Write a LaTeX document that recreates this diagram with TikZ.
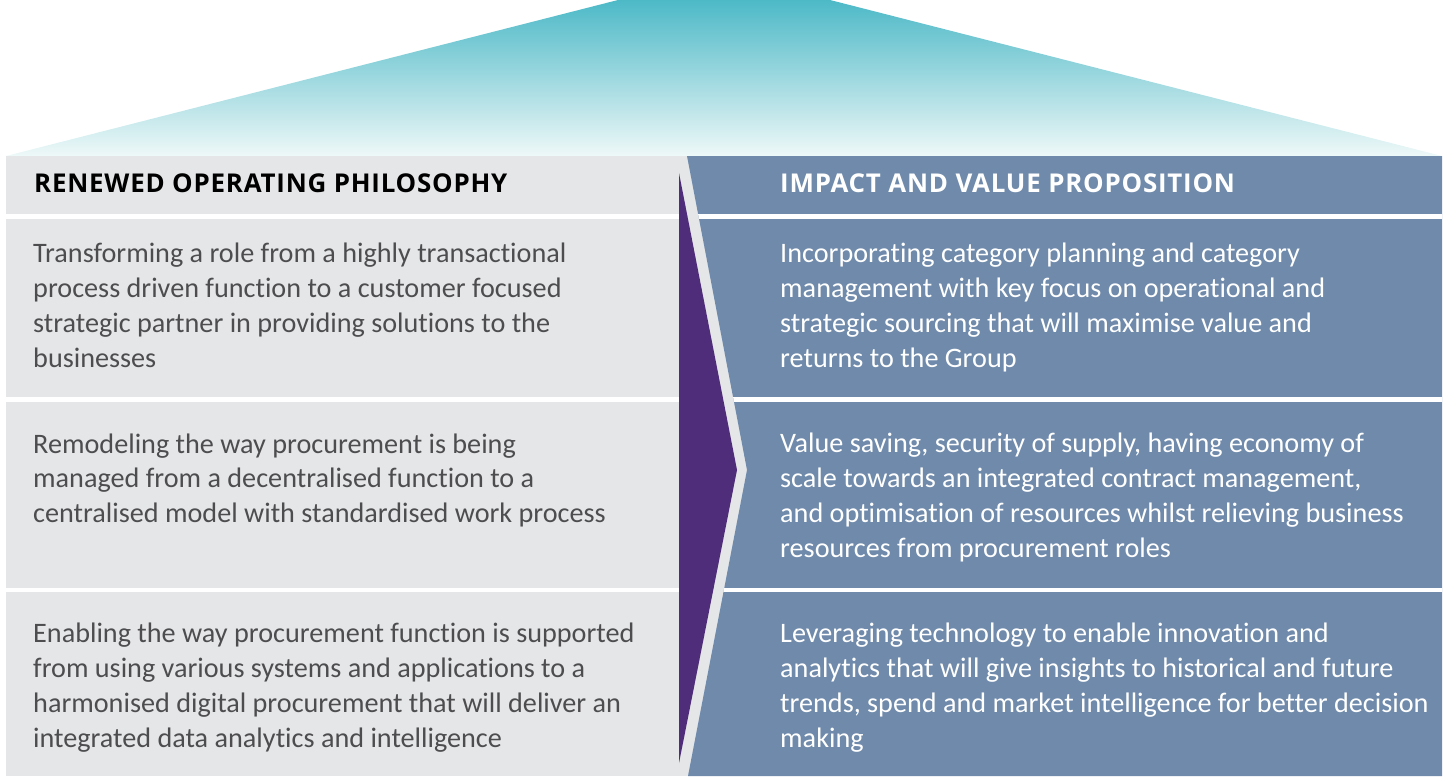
\documentclass[tikz,border=0pt]{standalone}
\usepackage{fontspec}
\setmainfont{Carlito}[Ligatures=NoCommon]
\newfontfamily\headfont[LetterSpace=3]{Open Sans}
\definecolor{panelgray}{HTML}{E5E6E8}
\definecolor{panelblue}{HTML}{6F8AAB}
\definecolor{arrowpurple}{HTML}{4F2D7A}
\definecolor{tealtop}{HTML}{4DB9C7}
\definecolor{tealbot}{HTML}{EEF8F8}
\definecolor{bodygray}{HTML}{4D4D4F}
\tikzset{
  bodytext/.style={anchor=base west, align=left, inner sep=0pt,
    font=\fontsize{28.2}{34.7}\selectfont},
  lefttext/.style={bodytext, text=bodygray},
  righttext/.style={bodytext, text=white},
  headtext/.style={anchor=base west, inner sep=0pt,
    font=\headfont\bfseries\fontsize{25.9}{30}\selectfont},
}
\begin{document}
\begin{tikzpicture}[x=1pt,y=-1pt]
\useasboundingbox (0,0) rectangle (1450,776);
% top roof
\shade[top color=tealtop, bottom color=tealbot] (6,156) -- (618,0) -- (830,0) -- (1442,156) -- cycle;
% grey panel
\fill[panelgray] (6,156) rectangle (760,776);
\fill[white] (6,214) rectangle (679,219);
\fill[white] (6,397) rectangle (679,402);
\fill[white] (6,588) rectangle (679,592);
% purple arrow
\fill[arrowpurple] (679,173) -- (737,470) -- (679,763) -- cycle;
% blue panel
\fill[panelblue] (687,156) -- (1442,156) -- (1442,776) -- (688,776) -- (747,470) -- cycle;
\begin{scope}
\clip (687,156) -- (1442,156) -- (1442,776) -- (688,776) -- (747,470) -- cycle;
\fill[white] (600,214) rectangle (1450,219);
\fill[white] (600,397) rectangle (1450,402);
\fill[white] (600,588) rectangle (1450,592);
\end{scope}
% headers
\node[headtext, text=black] (lh) at (34,192) {RENEWED OPERATING PHILOSOPHY};
\node[headtext, text=white] (rh) at (780,192) {IMPACT AND VALUE PROPOSITION};
% left texts (anchor at baseline of last line)
\node[lefttext] (l1) at (33,367) {Transforming a role from a highly transactional\\process driven function to a customer focused\\strategic partner in providing solutions to the\\businesses};
\node[lefttext] (l2) at (33,522.4) {Remodeling the way procurement is being\\managed from a decentralised function to a\\centralised model with standardised work process};
\node[lefttext] (l3) at (33,747) {Enabling the way procurement function is supported\\from using various systems and applications to a\\harmonised digital procurement that will deliver an\\integrated data analytics and intelligence};
% right texts
\node[righttext] (r1) at (780,367) {Incorporating category planning and category\\management with key focus on operational and\\strategic sourcing that will maximise value and\\returns to the Group};
\node[righttext] (r2) at (780,557) {Value saving, security of supply, having economy of\\scale towards an integrated contract management,\\and optimisation of resources whilst relieving business\\resources from procurement roles};
\node[righttext] (r3) at (780,747) {Leveraging technology to enable innovation and\\analytics that will give insights to historical and future\\trends, spend and market intelligence for better decision\\making};
\end{tikzpicture}
\end{document}
